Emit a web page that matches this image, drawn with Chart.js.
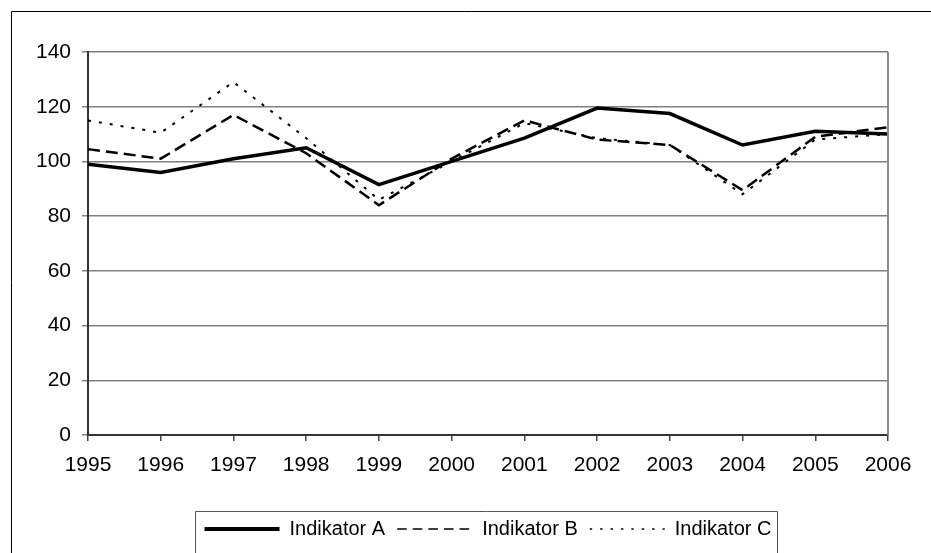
<!DOCTYPE html>
<html lang="de">
<head>
  <meta charset="UTF-8">
  <title>Indikatoren 1995-2006</title>
  <script src="https://cdn.jsdelivr.net/npm/chart.js"></script>
  <style>
    html, body {
      margin: 0;
      padding: 0;
      background: #fff;
    }
  </style>
</head>
<body>
  <canvas id="chart" width="931" height="553"></canvas>

  <script>
    const years = ['1995', '1996', '1997', '1998', '1999', '2000', '2001', '2002', '2003', '2004', '2005', '2006'];
    const seriesNames = ['Indikator A', 'Indikator B', 'Indikator C'];
    const indikatorA = [99, 96, 101, 105, 91.5, 100, 108.5, 119.5, 117.5, 106, 111, 110];
    const indikatorB = [104.5, 101, 117, 103, 84, 101, 115, 108, 106, 89.5, 109, 112.5];
    const indikatorC = [115, 110.5, 129, 108.5, 86, 100, 114, 108.5, 106, 88, 108, 110];
    const yTicks = [0, 20, 40, 60, 80, 100, 120, 140];

    const FONT = '"Liberation Sans", Arial, sans-serif';

    // weisser Hintergrund, Rahmen, rechter Rand der Zeichenflaeche, Legendenrahmen
    const framePlugin = {
      id: 'frame',
      beforeDraw(chart) {
        const ctx = chart.ctx;
        ctx.save();
        ctx.fillStyle = '#fff';
        ctx.fillRect(0, 0, chart.width, chart.height);
        ctx.strokeStyle = '#000';
        ctx.lineWidth = 1;
        ctx.beginPath();
        ctx.moveTo(11.5, chart.height);
        ctx.lineTo(11.5, 11.5);
        ctx.lineTo(chart.width, 11.5);
        ctx.stroke();
        ctx.restore();
      },
      afterDraw(chart) {
        const ctx = chart.ctx;
        const a = chart.chartArea;
        ctx.save();
        ctx.strokeStyle = '#8a8a8a';
        ctx.lineWidth = 2;
        ctx.beginPath();
        ctx.moveTo(a.right, a.top);
        ctx.lineTo(a.right, a.bottom);
        ctx.stroke();

        const boxes = chart.legend.legendHitBoxes;
        if (boxes && boxes.length) {
          const first = boxes[0];
          const last = boxes[boxes.length - 1];
          const left = Math.round(first.left - 10) + 0.5;
          const right = Math.round(last.left + last.width + 6) + 0.5;
          const top = Math.round(first.top - 8) + 0.5;
          ctx.strokeStyle = '#555';
          ctx.lineWidth = 1;
          ctx.beginPath();
          ctx.moveTo(left, chart.height);
          ctx.lineTo(left, top);
          ctx.lineTo(right, top);
          ctx.lineTo(right, chart.height);
          ctx.stroke();
        }
        ctx.restore();
      }
    };

    const ctx = document.getElementById('chart').getContext('2d');
    new Chart(ctx, {
      type: 'line',
      data: {
        labels: years,
        datasets: [
          {
            label: seriesNames[0],
            data: indikatorA,
            borderColor: '#000',
            borderWidth: 3.5,
            pointRadius: 0,
            tension: 0
          },
          {
            label: seriesNames[1],
            data: indikatorB,
            borderColor: '#000',
            borderWidth: 2.5,
            borderDash: [12, 6],
            pointRadius: 0,
            tension: 0
          },
          {
            label: seriesNames[2],
            data: indikatorC,
            borderColor: '#000',
            borderWidth: 2,
            borderDash: [3, 8],
            pointRadius: 0,
            tension: 0
          }
        ]
      },
      options: {
        responsive: false,
        animation: false,
        layout: {
          padding: { left: 0, right: 43, top: 52, bottom: 4 }
        },
        plugins: {
          tooltip: { enabled: false },
          legend: {
            position: 'bottom',
            fullSize: false,
            labels: {
              usePointStyle: true,
              pointStyle: 'line',
              pointStyleWidth: 75,
              boxHeight: 20,
              padding: 12,
              color: '#000',
              font: { family: FONT, size: 20 },
              // Linienstil der Datenreihen in die Legende uebernehmen
              generateLabels(chart) {
                const items = Chart.defaults.plugins.legend.labels.generateLabels(chart);
                items.forEach(item => {
                  const ds = chart.data.datasets[item.datasetIndex];
                  item.lineDash = ds.borderDash ? [ds.borderDash[0] * 0.8, ds.borderDash[1]] : [];
                  item.lineWidth = item.datasetIndex === 0 ? 4 : 1.5;
                  item.strokeStyle = '#000';
                  item.fillStyle = '#000';
                });
                return items;
              }
            }
          }
        },
        scales: {
          x: {
            offset: false,
            afterFit(scale) { scale.height = 72; },
            grid: {
              drawOnChartArea: false,
              drawTicks: true,
              tickLength: 6,
              color: '#444',
              lineWidth: 1.5
            },
            border: { color: '#333', width: 2 },
            ticks: {
              color: '#000',
              padding: 12,
              maxRotation: 0,
              autoSkip: false,
              font: { family: FONT, size: 21 }
            }
          },
          y: {
            min: yTicks[0],
            max: yTicks[yTicks.length - 1],
            afterFit(scale) { scale.width = 88; },
            afterBuildTicks(scale) {
              scale.ticks = yTicks.map(v => ({ value: v }));
            },
            grid: {
              color: '#808080',
              lineWidth: 1.5,
              tickLength: 6
            },
            border: { color: '#333', width: 2 },
            ticks: {
              color: '#000',
              padding: 11,
              font: { family: FONT, size: 21 }
            }
          }
        }
      },
      plugins: [framePlugin]
    });
  </script>
</body>
</html>
